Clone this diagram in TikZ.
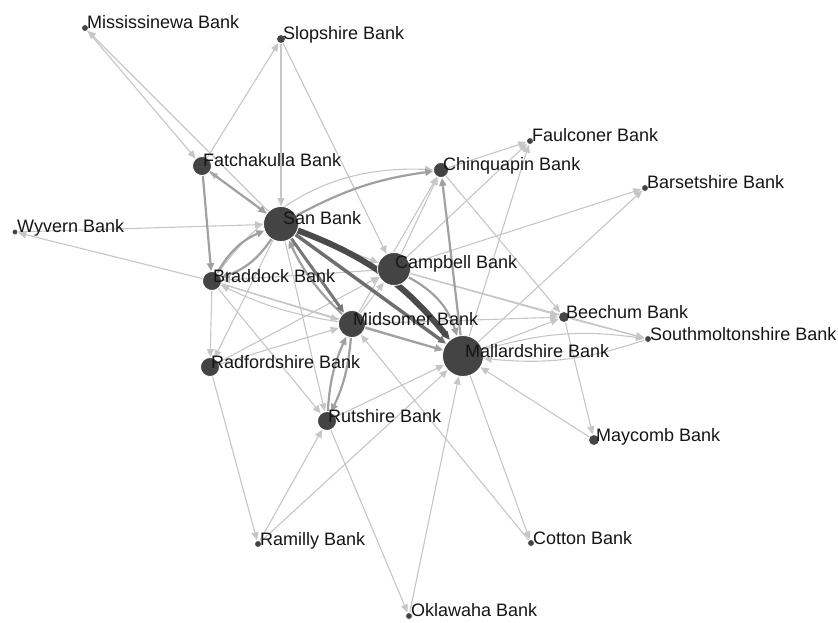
\documentclass[tikz,border=0pt]{standalone}
\usepackage{fontspec}
\setmainfont{Liberation Sans}
\usetikzlibrary{arrows.meta, positioning, backgrounds}
\definecolor{cnode}{HTML}{444444}
\definecolor{clink}{HTML}{C6C6C6}
\definecolor{cmid}{HTML}{A0A0A0}
\definecolor{cdark}{HTML}{4A4A4A}
\definecolor{ctext}{HTML}{151515}
\tikzset{
  every picture/.style={font=\fontsize{18}{21}\selectfont},
  bank/.style={circle, fill=cnode, draw=white, line width=0.8pt, inner sep=0pt, minimum size=#1},
  bank/.default=6pt,
  banklabel/.style={anchor=base west, inner sep=0pt, text=ctext},
  link/.style={-{Triangle[length=8pt, width=7pt]}, draw=clink, line width=1.1pt},
  strong/.style={link, draw=cmid, line width=2.2pt},
  heavy/.style={link, draw=cdark, line width=#1},
}

\begin{document}
\begin{tikzpicture}[x=1pt, y=-1pt]
  \useasboundingbox (0,0) rectangle (838,623);
  % banks
  \node[bank=7pt] (mis) at (85,28) {};
  \node[banklabel] (misL) at ([xshift=2pt, yshift=-1pt]mis.center) {Mississinewa Bank};
  \node[bank=9pt] (slo) at (281,39) {};
  \node[banklabel] (sloL) at ([xshift=2pt, yshift=-1pt]slo.center) {Slopshire Bank};
  \node[bank=19pt] (fat) at (202,166) {};
  \node[banklabel] (fatL) at ([xshift=1pt, yshift=-1pt]fat.center) {Fatchakulla Bank};
  \node[bank=35pt] (san) at (281,224) {};
  \node[banklabel] (sanL) at ([xshift=2pt, yshift=-0.5pt]san.center) {San Bank};
  \node[bank=6pt] (wyv) at (15,232) {};
  \node[banklabel] (wyvL) at ([xshift=2pt, yshift=-0.5pt]wyv.center) {Wyvern Bank};
  \node[bank=19pt] (bra) at (212,281) {};
  \node[banklabel] (braL) at ([xshift=1pt, yshift=-1pt]bra.center) {Braddock Bank};
  \node[bank=33pt] (cam) at (394,269) {};
  \node[banklabel] (camL) at ([xshift=1pt, yshift=1pt]cam.center) {Campbell Bank};
  \node[bank=15pt] (chi) at (441,170) {};
  \node[banklabel] (chiL) at ([xshift=2pt, yshift=-0.5pt]chi.center) {Chinquapin Bank};
  \node[bank=7pt] (fau) at (530,141) {};
  \node[banklabel] (fauL) at ([xshift=2pt, yshift=-1pt]fau.center) {Faulconer Bank};
  \node[bank=7pt] (bar) at (645,188) {};
  \node[banklabel] (barL) at ([xshift=2pt, yshift=-1pt]bar.center) {Barsetshire Bank};
  \node[bank=27pt] (mid) at (352,324) {};
  \node[banklabel] (midL) at ([xshift=1pt, yshift=-1pt]mid.center) {Midsomer Bank};
  \node[bank=41pt] (mal) at (463,356) {};
  \node[banklabel] (malL) at ([xshift=2pt, yshift=-1pt]mal.center) {Mallardshire Bank};
  \node[bank=11pt] (bee) at (564,317) {};
  \node[banklabel] (beeL) at ([xshift=2pt, yshift=-1pt]bee.center) {Beechum Bank};
  \node[bank=7pt] (sou) at (648,339) {};
  \node[banklabel] (souL) at ([xshift=2pt, yshift=-1pt]sou.center) {Southmoltonshire Bank};
  \node[bank=19pt] (rad) at (210,367) {};
  \node[banklabel] (radL) at ([xshift=1pt, yshift=-1pt]rad.center) {Radfordshire Bank};
  \node[bank=19pt] (rut) at (327,421) {};
  \node[banklabel] (rutL) at ([xshift=1pt, yshift=-1pt]rut.center) {Rutshire Bank};
  \node[bank=11pt] (may) at (594,440) {};
  \node[banklabel] (mayL) at ([xshift=2pt, yshift=-1pt]may.center) {Maycomb Bank};
  \node[bank=7pt] (ram) at (258,544) {};
  \node[banklabel] (ramL) at ([xshift=2pt, yshift=-1pt]ram.center) {Ramilly Bank};
  \node[bank=7pt] (cot) at (531,543) {};
  \node[banklabel] (cotL) at ([xshift=2pt, yshift=-1pt]cot.center) {Cotton Bank};
  \node[bank=7pt] (okl) at (409,616) {};
  \node[banklabel] (oklL) at ([xshift=2pt, yshift=0pt]okl.center) {Oklawaha Bank};

  \begin{scope}[on background layer]
    % outer links
    \draw[link] (mis) -- (fat); \draw[link] (san) -- (mis);
    \draw[link] (fat) -- (slo); \draw[link] (slo) -- (san); \draw[link] (slo) -- (cam);
    \draw[link] (wyv) -- (san); \draw[link] (bra) -- (wyv);
    \draw[link] (bra) -- (rad); \draw[link] (rad) -- (ram);
    \draw[link] (ram) -- (rut); \draw[link] (ram) -- (mal);
    \draw[link] (rut) -- (okl); \draw[link] (okl) -- (mal);
    \draw[link] (mal) -- (cot); \draw[link] (cot) -- (mid);
    \draw[link] (may) -- (mal); \draw[link] (bee) -- (may);
    \draw[link] (mal) -- (bee); \draw[link] (bee) -- (sou);
    \draw[link] (mal) to[bend left=12] (sou); \draw[link] (sou) to[bend left=12] (mal);
    \draw[link] (cam) -- (sou);
    \draw[link] (chi) -- (bee); \draw[link] (cam) -- (bee); \draw[link] (mid) -- (bee);
    \draw[link] (mal) -- (bar); \draw[link] (cam) -- (bar);
    \draw[link] (mal) -- (fau); \draw[link] (chi) -- (fau); \draw[link] (cam) -- (fau);
    \draw[link] (cam) -- (chi); \draw[link] (mid) -- (chi);
    \draw[link] (bra) to[bend left=28] (chi);
    % inner links
    \draw[link] (san) -- (fat); \draw[strong] (fat) -- (san);
    \draw[strong] (fat) -- (bra);
    \draw[link] (san) -- (rad); \draw[link] (san) -- (rut);
    \draw[link] (bra) -- (mid); \draw[link] (mid) to[bend left=8] (bra);
    \draw[link] (rad) -- (mid); \draw[link] (rad) -- (cam);
    \draw[link] (bra) -- (rut); \draw[link] (rut) -- (mal);
    \draw[link] (bra) -- (mal); \draw[link] (cam) -- (bra);
    \draw[link] (mid) -- (cam); \draw[link] (san) -- (cam);
    \draw[strong] (bra) to[bend left=18] (san); \draw[strong] (san) to[bend left=18] (bra);
    \draw[strong] (mid) to[bend left=10] (rut); \draw[strong] (rut) to[bend left=10] (mid);
    \draw[strong] (san) to[bend left=10] (chi); \draw[strong] (mal) -- (chi);
    \draw[strong] (mid) -- (mal); \draw[strong] (mid) to[bend left=10] (san);
    \draw[strong] (cam) to[bend left=22] (mal);
    % heavy links
    \draw[heavy=3pt, draw=cdark!75] (san) -- (mid);
    \draw[heavy=3.5pt, draw=cdark!80] (san) -- (mal);
    \draw[heavy=6pt] (san) to[bend left=15] (mal);
  \end{scope}
\end{tikzpicture}
\end{document}
